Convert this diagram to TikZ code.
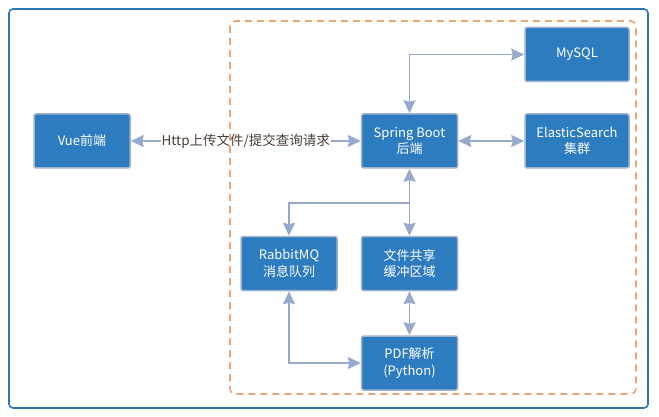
\documentclass[tikz,border=0pt]{standalone}
\usepackage{fontspec}
\setmainfont{Noto Sans CJK SC}
\usepackage{xcolor}
\usetikzlibrary{arrows.meta,positioning}

\definecolor{boxblue}{RGB}{46,124,192}
\definecolor{boxedge}{RGB}{160,178,206}
\definecolor{linkcol}{RGB}{152,170,203}
\definecolor{framecol}{RGB}{46,117,182}
\definecolor{dashcol}{RGB}{232,168,119}
\definecolor{labelcol}{RGB}{77,60,56}

\begin{document}
\begin{tikzpicture}[
    x=1pt, y=-1pt,
    node distance=30pt,
    >={Stealth[length=13pt,width=12pt,inset=1.5pt]},
    font=\fontsize{13}{16.5}\selectfont,
    box/.style={rectangle,rounded corners=2pt,fill=boxblue,draw=boxedge,line width=1.5pt,text=white,align=center,minimum width=96pt,minimum height=54pt,inner sep=2pt},
    widebox/.style={box,minimum width=104pt},
    link/.style={<->,draw=linkcol,line width=1.6pt},
    branch/.style={->,draw=linkcol,line width=1.6pt},
    tag/.style={text=labelcol,fill=white,inner sep=1pt,font=\fontsize{13.5}{16}\selectfont}
]
\useasboundingbox (0,0) rectangle (659,417);

% frames
\draw[framecol,line width=1.6pt,rounded corners=4pt] (9,9) rectangle (648,408);

% nodes
\node[box] (vue) at (82,141) {Vue前端};
\node[box, right=230pt of vue] (spring) {Spring Boot\\后端};
\node[widebox, right=66pt of spring] (elastic) {ElasticSearch\\集群};
\node[widebox, above=31pt of elastic] (mysql) {MySQL};
\node[box, below=67pt of spring] (share) {文件共享\\缓冲区域};
\node[box, left=23pt of share] (rabbit) {RabbitMQ\\消息队列};
\node[box, below=44pt of share] (pdf) {PDF解析\\(Python)};
\coordinate[below=34pt of spring.south] (split);

% connectors
\draw[link] (vue) -- node[tag] {Http上传文件/提交查询请求} (spring);
\draw[link] (spring.north) |- (mysql.west);
\draw[link] (spring) -- (elastic);
\draw[link] (spring) -- (share);
\draw[branch] (split) -| (rabbit.north);
\draw[link] (share) -- (pdf);
\draw[link] (rabbit.south) |- (pdf.west);

% service group
\draw[dashcol,line width=1.6pt,dash pattern=on 7pt off 5pt,rounded corners=5pt] (230,21) rectangle (636,394);

\end{tikzpicture}
\end{document}
